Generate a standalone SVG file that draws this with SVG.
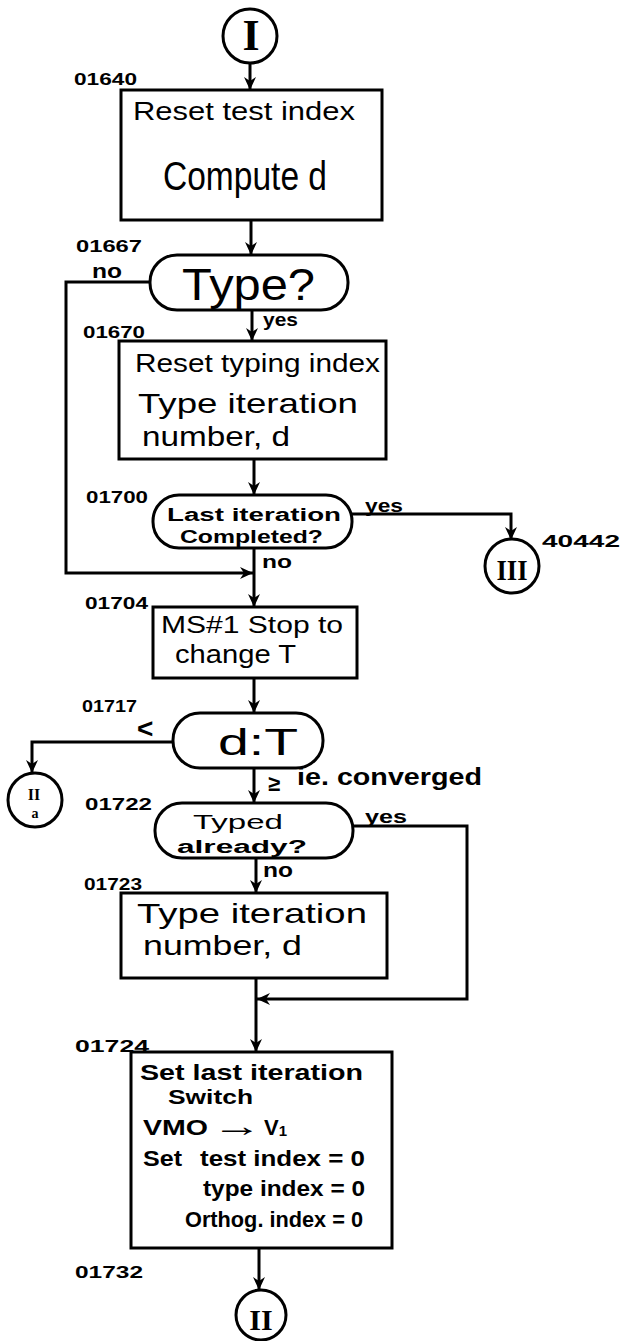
<svg xmlns="http://www.w3.org/2000/svg" width="622" height="1341" viewBox="0 0 622 1341">
<style>
.bx{fill:#fff;stroke:#000;stroke-width:3}
.ln{fill:none;stroke:#000;stroke-width:3;stroke-linejoin:miter}
.t{font-family:"Liberation Sans",Arial,sans-serif;fill:#000}
.b{font-weight:bold}
.lab{font-family:"Liberation Sans",Arial,sans-serif;font-weight:bold;font-size:17px;fill:#000}
.rn{font-family:"Liberation Serif","Times New Roman",serif;font-weight:bold;fill:#000;text-anchor:middle}
</style>
<defs>
<marker id="ah" markerUnits="userSpaceOnUse" markerWidth="14" markerHeight="12" refX="13" refY="6" orient="auto">
<path d="M0,0 L13,6 L0,12 L4,6 z" fill="#000"/>
</marker>
</defs>
<g id="connectors">
<path class="ln" d="M250,63 V90" marker-end="url(#ah)"/>
<path class="ln" d="M251,220 V255" marker-end="url(#ah)"/>
<path class="ln" d="M252,310 V341" marker-end="url(#ah)"/>
<path class="ln" d="M150,282 H66 V573 H253" marker-end="url(#ah)"/>
<path class="ln" d="M254,459 V495" marker-end="url(#ah)"/>
<path class="ln" d="M352,514 H511 V540" marker-end="url(#ah)"/>
<path class="ln" d="M254,548 V607" marker-end="url(#ah)"/>
<path class="ln" d="M254,678 V713" marker-end="url(#ah)"/>
<path class="ln" d="M173,742 H32 V773" marker-end="url(#ah)"/>
<path class="ln" d="M254,768 V803" marker-end="url(#ah)"/>
<path class="ln" d="M256,858 V893" marker-end="url(#ah)"/>
<path class="ln" d="M353,826 H467 V999 H257" marker-end="url(#ah)"/>
<path class="ln" d="M256,978 V1052" marker-end="url(#ah)"/>
<path class="ln" d="M259,1248 V1290" marker-end="url(#ah)"/>
</g>
<g id="n_I">
<circle class="bx" cx="250" cy="36" r="27"/>
<text class="rn" x="251" y="50" font-size="44" font-weight="normal">I</text>
</g>
<g id="n_01640">
<text class="lab" x="74" y="85" textLength="63" lengthAdjust="spacingAndGlyphs">01640</text>
<rect class="bx" x="121" y="90" width="261" height="130"/>
<text class="t" x="133" y="120" font-size="26" textLength="222" lengthAdjust="spacingAndGlyphs">Reset test index</text>
<text class="t" x="163" y="190" font-size="40" textLength="164" lengthAdjust="spacingAndGlyphs">Compute d</text>
</g>
<g id="n_01667">
<text class="lab" x="76" y="252" textLength="66" lengthAdjust="spacingAndGlyphs">01667</text>
<rect class="bx" x="150" y="255" width="198" height="55" rx="27" ry="27"/>
<text class="t" x="182" y="300" font-size="44" textLength="133" lengthAdjust="spacingAndGlyphs">Type?</text>
<text class="t b" x="92" y="278" font-size="20" textLength="30" lengthAdjust="spacingAndGlyphs">no</text>
<text class="t b" x="263" y="326" font-size="18" textLength="35" lengthAdjust="spacingAndGlyphs">yes</text>
</g>
<g id="n_01670">
<text class="lab" x="83" y="338" textLength="62" lengthAdjust="spacingAndGlyphs">01670</text>
<rect class="bx" x="119" y="341" width="267" height="118"/>
<text class="t" x="135" y="372" font-size="26" textLength="245" lengthAdjust="spacingAndGlyphs">Reset typing index</text>
<text class="t" x="138" y="413" font-size="28" textLength="220" lengthAdjust="spacingAndGlyphs">Type iteration</text>
<text class="t" x="142" y="446" font-size="28" textLength="148" lengthAdjust="spacingAndGlyphs">number, d</text>
</g>
<g id="n_01700">
<text class="lab" x="86" y="503" textLength="62" lengthAdjust="spacingAndGlyphs">01700</text>
<rect class="bx" x="153" y="495" width="199" height="53" rx="26" ry="26"/>
<text class="t b" x="167" y="521" font-size="18" textLength="174" lengthAdjust="spacingAndGlyphs">Last iteration</text>
<text class="t b" x="180" y="543" font-size="18" textLength="143" lengthAdjust="spacingAndGlyphs">Completed?</text>
<text class="t b" x="365" y="512" font-size="18" textLength="38" lengthAdjust="spacingAndGlyphs">yes</text>
<text class="t b" x="262" y="568" font-size="18" textLength="30" lengthAdjust="spacingAndGlyphs">no</text>
</g>
<g id="n_III">
<circle class="bx" cx="512" cy="566" r="27"/>
<text class="rn" x="512" y="580" font-size="30" textLength="31" lengthAdjust="spacingAndGlyphs">III</text>
<text class="lab" x="542" y="547" font-size="18" textLength="78" lengthAdjust="spacingAndGlyphs">40442</text>
</g>
<g id="n_01704">
<text class="lab" x="85" y="609" textLength="63" lengthAdjust="spacingAndGlyphs">01704</text>
<rect class="bx" x="153" y="607" width="204" height="71"/>
<text class="t" x="161" y="633" font-size="24" textLength="182" lengthAdjust="spacingAndGlyphs">MS#1 Stop to</text>
<text class="t" x="175" y="663" font-size="26" textLength="121" lengthAdjust="spacingAndGlyphs">change T</text>
</g>
<g id="n_01717">
<text class="lab" x="82" y="712" textLength="55" lengthAdjust="spacingAndGlyphs">01717</text>
<rect class="bx" x="173" y="713" width="150" height="55" rx="27" ry="27"/>
<text class="t" x="218" y="755" font-size="36" textLength="80" lengthAdjust="spacingAndGlyphs">d:T</text>
<text class="t b" x="137" y="738" font-size="28">&lt;</text>
<text class="t b" x="268" y="791" font-size="22">≥</text>
<text class="t b" x="297" y="785" font-size="24" textLength="185" lengthAdjust="spacingAndGlyphs">ie. converged</text>
</g>
<g id="n_IIa">
<circle class="bx" cx="35" cy="800" r="27"/>
<text class="rn" x="34" y="800" font-size="16">II</text>
<text class="rn" x="35" y="818" font-size="14">a</text>
</g>
<g id="n_01722">
<text class="lab" x="85" y="810" textLength="67" lengthAdjust="spacingAndGlyphs">01722</text>
<rect class="bx" x="155" y="803" width="198" height="55" rx="27" ry="27"/>
<text class="t" x="193" y="829" font-size="21" textLength="90" lengthAdjust="spacingAndGlyphs">Typed</text>
<text class="t b" x="177" y="853" font-size="18" textLength="130" lengthAdjust="spacingAndGlyphs">already?</text>
<text class="t b" x="365" y="823" font-size="18" textLength="42" lengthAdjust="spacingAndGlyphs">yes</text>
<text class="t b" x="263" y="877" font-size="20" textLength="30" lengthAdjust="spacingAndGlyphs">no</text>
</g>
<g id="n_01723">
<text class="lab" x="84" y="890" textLength="58" lengthAdjust="spacingAndGlyphs">01723</text>
<rect class="bx" x="121" y="893" width="266" height="85"/>
<text class="t" x="137" y="923" font-size="28" textLength="230" lengthAdjust="spacingAndGlyphs">Type iteration</text>
<text class="t" x="143" y="955" font-size="28" textLength="159" lengthAdjust="spacingAndGlyphs">number, d</text>
</g>
<g id="n_01724">
<text class="lab" x="75" y="1052" textLength="74" lengthAdjust="spacingAndGlyphs">01724</text>
<rect class="bx" x="131" y="1052" width="261" height="196"/>
<text class="t b" x="140" y="1080" font-size="22" textLength="223" lengthAdjust="spacingAndGlyphs">Set last iteration</text>
<text class="t b" x="168" y="1104" font-size="20" textLength="85" lengthAdjust="spacingAndGlyphs">Switch</text>
<text class="t b" x="143" y="1135" font-size="22" textLength="65" lengthAdjust="spacingAndGlyphs">VMO</text>
<text class="t b" x="212" y="1136" font-size="30" textLength="50" lengthAdjust="spacingAndGlyphs">→</text>
<text class="t b" x="264" y="1135" font-size="22">V<tspan font-size="15" dy="1">1</tspan></text>
<text class="t b" x="143" y="1166" font-size="22" textLength="39" lengthAdjust="spacingAndGlyphs">Set</text>
<text class="t b" x="200" y="1166" font-size="22" textLength="165" lengthAdjust="spacingAndGlyphs">test index = 0</text>
<text class="t b" x="203" y="1196" font-size="22" textLength="162" lengthAdjust="spacingAndGlyphs">type index = 0</text>
<text class="t b" x="185" y="1227" font-size="22" textLength="178" lengthAdjust="spacingAndGlyphs">Orthog. index = 0</text>
</g>
<g id="n_II">
<text class="lab" x="75" y="1278" textLength="68" lengthAdjust="spacingAndGlyphs">01732</text>
<circle class="bx" cx="261" cy="1315" r="25"/>
<text class="rn" x="261" y="1330" font-size="30" font-weight="normal">II</text>
</g>
</svg>
